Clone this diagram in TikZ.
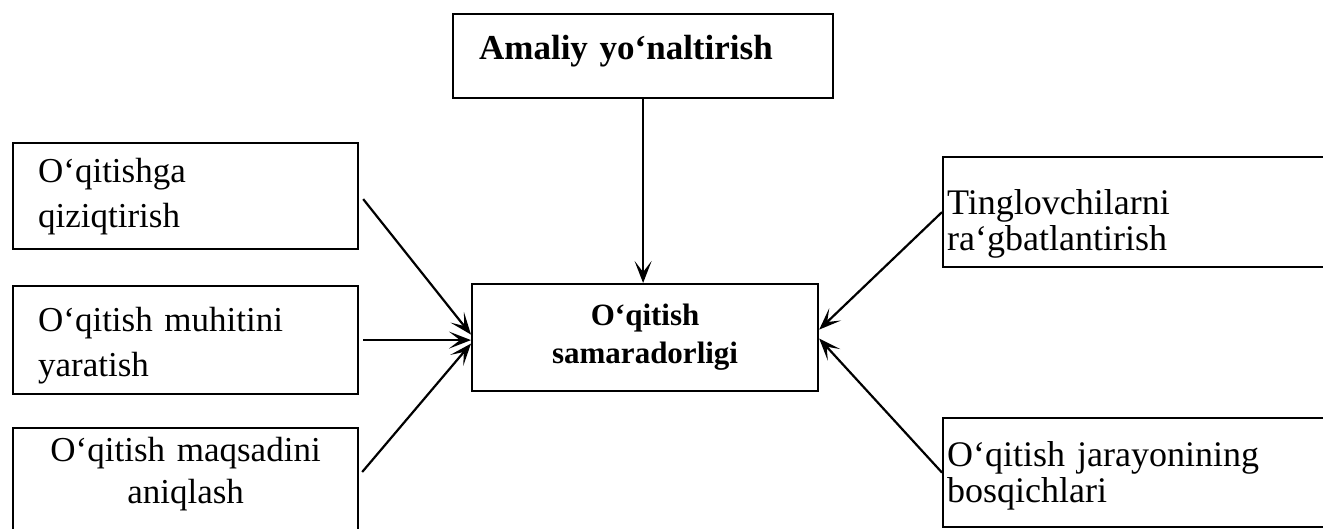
\documentclass[tikz,border=0pt]{standalone}
\usepackage{fontspec}
\setmainfont{Liberation Serif}
\usetikzlibrary{arrows.meta,calc}
\begin{document}
\begin{tikzpicture}[x=1pt,y=-1pt,
  box/.style={draw, line width=2.2pt, rectangle, inner ysep=0pt, anchor=north west},
  lbox/.style={box, inner xsep=25pt, text width=295pt, minimum height=106pt, align=left, font=\fontsize{35}{45}\selectfont},
  rbox/.style={box, inner xsep=4pt, text width=392pt, align=left, font=\fontsize{36}{36}\selectfont},
  tbox/.style={box, inner xsep=26pt, text width=328pt, align=left, font=\bfseries\fontsize{35}{42}\selectfont},
  cbox/.style={box, inner xsep=0pt, text width=346pt, minimum height=107pt, align=center, font=\bfseries\fontsize{31}{38}\selectfont},
  conn/.style={line width=2.2pt, -{Stealth[length=22pt,width=17pt,inset=11pt]}}
]
\useasboundingbox (0,0) rectangle (1323,529);
\clip (0,0) rectangle (1323,529);

\node[tbox, minimum height=84pt, text depth=18pt] (top) at (452,13) {Amaliy yo‘naltirish};
\node[cbox] (ctr) at (471,283) {O‘qitish\\samaradorligi};

\node[lbox] (b1) at (12,142) {O‘qitishga\\qiziqtirish};
\node[lbox, minimum height=108pt, text depth=42pt] (b2) at (12,285) {O‘qitish muhitini\\yaratish};
\node[lbox, minimum height=104pt, align=center, text depth=62pt, font=\fontsize{35}{42}\selectfont] (b3) at (12,427) {O‘qitish maqsadini\\aniqlash};

\node[rbox, minimum height=110pt, text depth=21pt] (b4) at (942,156) {Tinglovchilarni\\ra‘gbatlantirish};
\node[rbox, minimum height=109pt, text depth=38pt] (b5) at (942,417) {O‘qitish jarayonining\\bosqichlari};

\draw[conn] (top.south) -- (top.south |- ctr.north);
\draw[conn] ($(b1.east)+(4,3)$) -- ($(ctr.west)+(0,-3)$);
\draw[conn] ($(b2.east)+(4,0)$) -- (b2.east -| ctr.west);
\draw[conn] ($(b3.north east)+(3,45)$) -- ($(ctr.west)+(0,6)$);
\draw[conn] (b4.west) -- ($(ctr.east)+(0,-8)$);
\draw[conn] (b5.west) -- ($(ctr.east)+(0,1)$);
\end{tikzpicture}
\end{document}
